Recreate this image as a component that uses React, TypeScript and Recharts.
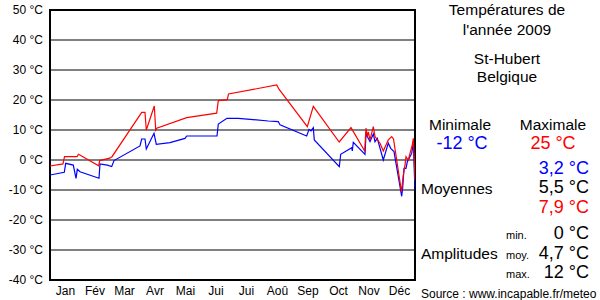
import React from "react";
import {
  LineChart,
  Line,
  XAxis,
  YAxis,
  CartesianGrid,
  ReferenceArea,
} from "recharts";

// Day of year (0 = 1 Jan) and daily temperatures (°C)
const maxDays = [0, 13, 14.5, 27, 28.5, 48.7, 49.7, 59.7, 62, 91.7, 95, 96.3, 104.3, 105.7, 106.7, 136.7, 166.7, 168.3, 177.3, 178.5, 226.7, 229, 257.3, 263.3, 289.2, 301, 314.7, 316, 317.3, 318.3, 320, 323.3, 325, 330, 333.3, 338.3, 341.7, 343.5, 351.5, 353.3, 355, 356, 358.3, 360, 362.3, 363.3, 364.3, 365];
const maxTemps = [-2, -1.3, 1.1, 1.1, 1.9, -1.9, -0.2, 0.6, 1.1, 15.9, 15.9, 10, 18, 10, 10.6, 14.1, 15.6, 19.8, 20.1, 22, 25, 23.6, 11.1, 17.9, 6, 10.8, 3, 10.6, 7.8, 9.4, 6.7, 11.1, 7.8, 5.6, 3, 6.7, 7.8, 7, -10.6, -5, -1.7, 1.1, 0, 2.2, 5, 7.2, 0, -6.7];

const minDays = [0, 14.3, 15.7, 23.3, 26, 27.3, 30, 49, 50, 57.3, 61.7, 64, 90, 91.7, 95, 96.3, 104, 106.3, 120, 135, 136.7, 167, 168.3, 177, 188.3, 218.3, 228.3, 230, 256.7, 259, 261, 263.3, 264.3, 289.3, 290.7, 301.7, 302.3, 303.3, 315, 316, 320, 323.3, 325, 327.3, 333.3, 338.3, 340.7, 344, 351.7, 352.7, 354, 356, 357.3, 360, 361.7, 363.3, 365];
const minTemps = [-5, -4.1, -1.1, -1.7, -6.1, -3.1, -3.9, -6.1, -1.3, -1.7, -2.2, -0.2, 4.7, 7, 7, 3.7, 8.9, 5.2, 5.8, 7.2, 8, 8, 12, 13.9, 13.9, 13, 12.8, 11.7, 8, 10.2, 9.7, 10.8, 6.7, -2.2, 1.9, 4.1, 3, 5.9, 1.9, 8.7, 6.1, 8.7, 6.1, 7.2, 0, 5.6, 3.9, 2.8, -12.1, -9.2, -2.8, -2.8, -0.6, 1.1, 2.2, 5.6, -10];

const monthStarts = [0, 31, 59, 90, 120, 151, 181, 212, 243, 273, 304, 334, 365];
const monthMids = [15.5, 45, 74.5, 105, 135.5, 166, 196.5, 227.5, 258, 288.5, 319, 349.5];
const monthLabels = ["Jan", "Fév", "Mar", "Avr", "Mai", "Jui", "Jui", "Aoû", "Sep", "Oct", "Nov", "Déc"];
const yTicks = [-40, -30, -20, -10, 0, 10, 20, 30, 40, 50];

const maxData = maxDays.map((d, i) => ({ d, t: maxTemps[i] }));
const minData = minDays.map((d, i) => ({ d, t: minTemps[i] }));

const FONT = "'Liberation Sans', Arial, sans-serif";

export default function App() {
  return (
    <div style={{ position: "absolute", left: 0, top: 0, width: 600, height: 300, background: "#fff", fontFamily: FONT }}>
      <LineChart width={600} height={300} margin={{ top: 10, right: 185, bottom: 0, left: 0 }}>
        <CartesianGrid xAxisId="grid" stroke="#808080" strokeWidth={1.3} shapeRendering="crispEdges" />
        <XAxis
          xAxisId="grid"
          dataKey="d"
          type="number"
          domain={[0, 365]}
          ticks={monthStarts}
          allowDataOverflow
          height={0}
          tick={false}
          tickLine={false}
          axisLine={false}
        />
        <XAxis
          xAxisId="lab"
          dataKey="d"
          type="number"
          domain={[0, 365]}
          ticks={monthMids}
          interval={0}
          allowDataOverflow
          height={20}
          tickLine={false}
          axisLine={false}
          tickSize={4}
          tickMargin={2.5}
          tickFormatter={(_v: number, i: number) => monthLabels[i]}
          tick={{ fill: "#000", fontSize: 12, fontFamily: FONT }}
        />
        <YAxis
          type="number"
          domain={[-40, 50]}
          ticks={yTicks}
          interval={0}
          width={50}
          tickLine={false}
          axisLine={false}
          tickSize={5}
          tickMargin={2}
          tickFormatter={(v: number) => `${v} °C`}
          tick={{ fill: "#000", fontSize: 12, fontFamily: FONT }}
        />
        <ReferenceArea xAxisId="grid" x1={0} x2={365} y1={-40} y2={50} fill="none" stroke="#000" strokeWidth={1.3} shapeRendering="crispEdges" />
        <Line xAxisId="grid" data={minData} dataKey="t" type="linear" stroke="#0000ff" strokeWidth={1.2} dot={false} isAnimationActive={false} />
        <Line xAxisId="grid" data={maxData} dataKey="t" type="linear" stroke="#ff0000" strokeWidth={1.2} dot={false} isAnimationActive={false} />
      </LineChart>
      <svg width={600} height={300} style={{ position: "absolute", left: 0, top: 0, pointerEvents: "none" }} fontFamily={FONT}>
        <g fontSize={15.5} fill="#000" textAnchor="middle">
          <text x={507} y={15}>Températures de</text>
          <text x={507} y={35}>l'année 2009</text>
          <text x={507} y={64}>St-Hubert</text>
          <text x={507} y={82}>Belgique</text>
          <text x={460} y={130}>Minimale</text>
          <text x={553} y={130}>Maximale</text>
        </g>
        <g fontSize={18} textAnchor="middle">
          <text x={462} y={149} fill="#0000ff">-12 °C</text>
          <text x={553} y={149} fill="#ff0000">25 °C</text>
        </g>
        <g fontSize={15.5} fill="#000" textAnchor="start">
          <text x={421} y={194}>Moyennes</text>
          <text x={421} y={259}>Amplitudes</text>
        </g>
        <g fontSize={18} textAnchor="end">
          <text x={589} y={174} fill="#0000ff">3,2 °C</text>
          <text x={589} y={193} fill="#000">5,5 °C</text>
          <text x={589} y={213} fill="#ff0000">7,9 °C</text>
          <text x={589} y={239} fill="#000">0 °C</text>
          <text x={589} y={259} fill="#000">4,7 °C</text>
          <text x={589} y={278} fill="#000">12 °C</text>
        </g>
        <g fontSize={11} fill="#000" textAnchor="start">
          <text x={506} y={239}>min.</text>
          <text x={506} y={259}>moy.</text>
          <text x={506} y={278}>max.</text>
        </g>
        <text x={421} y={298} fontSize={12} fill="#000">Source : www.incapable.fr/meteo</text>
      </svg>
    </div>
  );
}
